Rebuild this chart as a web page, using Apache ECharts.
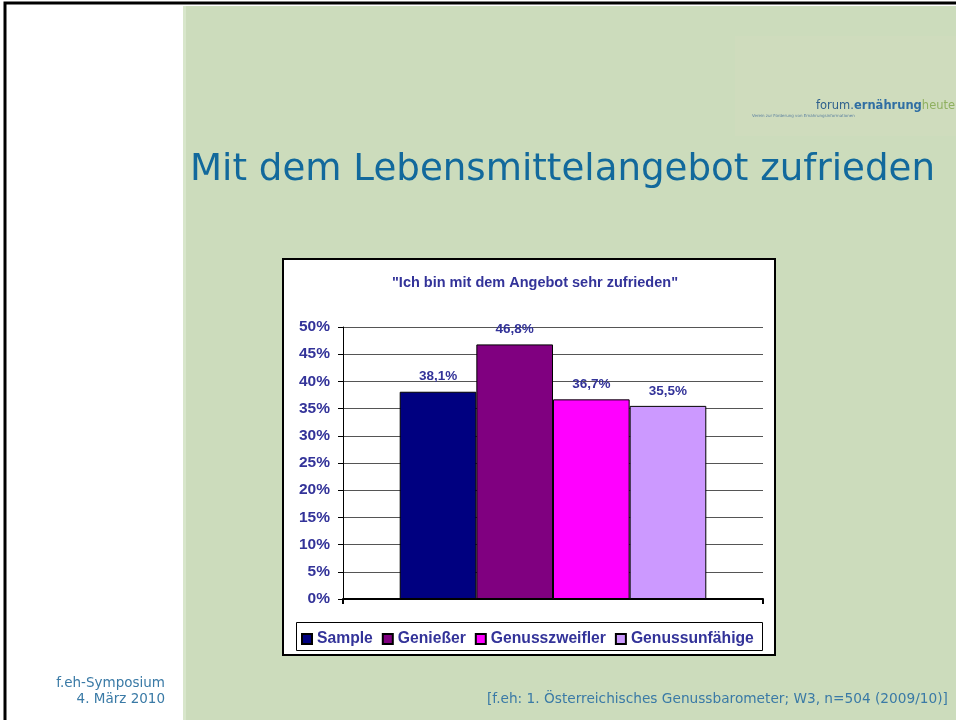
<!DOCTYPE html>
<html lang="de">
<head>
<meta charset="UTF-8">
<title>Mit dem Lebensmittelangebot zufrieden</title>
<script type="text/javascript" src="https://cdn.jsdelivr.net/npm/echarts@6/dist/echarts.min.js"></script>
<style>
  html, body { margin: 0; padding: 0; background: #fff; }
</style>
</head>
<body>
<div id="slide_chart" style="width:956px;height:720px;"></div>

<script type="text/javascript">
// data
var category = ['Zufriedenheit'];
var seriesNames = ['Sample', 'Genießer', 'Genusszweifler', 'Genussunfähige'];
var seriesValues = [38.1, 46.8, 36.7, 35.5];
var seriesColors = ['#000080', '#800080', '#ff00ff', '#cc99ff'];
var yTicks = [0, 5, 10, 15, 20, 25, 30, 35, 40, 45, 50];

var blue = '#333399';
var chartDom = document.getElementById('slide_chart');
var myChart = echarts.init(chartDom);

function pct(v) {
    return String(v).replace('.', ',') + '%';
}

var series = [];
for (var i = 0; i < seriesNames.length; i++) {
    series.push({
        name: seriesNames[i],
        type: 'bar',
        data: [seriesValues[i]],
        barGap: '0%',
        barCategoryGap: '27%',
        itemStyle: { color: seriesColors[i], borderColor: '#000', borderWidth: 1 },
        label: {
            show: true,
            position: 'top',
            distance: 8,
            formatter: function (p) { return pct(p.value); },
            color: blue,
            fontFamily: 'Liberation Sans',
            fontWeight: 'bold',
            fontSize: 13.5
        }
    });
}

var option = {
    backgroundColor: '#fff',
    animation: false,
    graphic: [
        // slide frame
        { type: 'rect', z: -10, shape: { x: 5, y: 3, width: 960, height: 730 },
          style: { fill: '#fff', stroke: '#000', lineWidth: 3 } },
        { type: 'rect', z: -9, shape: { x: 183, y: 6, width: 780, height: 720 },
          style: { fill: '#ccdcbc' } },
        { type: 'rect', z: -9, shape: { x: 183, y: 6, width: 3, height: 720 },
          style: { fill: '#d8e6cb' } },
        // logo area
        { type: 'rect', z: -8, shape: { x: 735, y: 36, width: 230, height: 100 },
          style: { fill: '#cfdcbd' } },
        { type: 'text', z: -7, left: 816, top: 100,
          style: {
              text: '{a|forum.}{b|ernährung}{c|heute}',
              rich: {
                  a: { fontFamily: 'DejaVu Sans', fontSize: 11.5, fill: '#2d5f8c' },
                  b: { fontFamily: 'DejaVu Sans', fontSize: 11.5, fontWeight: 'bold', fill: '#2f6ea3' },
                  c: { fontFamily: 'DejaVu Sans', fontSize: 11.5, fill: '#8fb060' }
              }
          } },
        { type: 'text', z: -7, left: 752, top: 114,
          style: { text: 'Verein zur Förderung von Ernährungsinformationen',
                   fontFamily: 'DejaVu Sans', fontSize: 4, fill: '#5a7fa0' } },
        // slide title
        { type: 'text', z: -7, left: 190, top: 152,
          style: { text: 'Mit dem Lebensmittelangebot zufrieden',
                   fontFamily: 'DejaVu Sans', fontSize: 37.2, fill: '#12699c' } },
        // chart box
        { type: 'rect', z: -6, shape: { x: 283, y: 259, width: 492, height: 396 },
          style: { fill: '#fff', stroke: '#000', lineWidth: 2 } },
        // legend box
        { type: 'rect', z: -5, shape: { x: 296.5, y: 622.5, width: 466, height: 28 },
          style: { fill: '#fff', stroke: '#000', lineWidth: 1 } },
        // footer
        { type: 'text', z: -7, right: 791, top: 676,
          style: { text: 'f.eh-Symposium', fontFamily: 'DejaVu Sans', fontSize: 13.5, fill: '#3a7aa6' } },
        { type: 'text', z: -7, right: 791, top: 692,
          style: { text: '4. März 2010', fontFamily: 'DejaVu Sans', fontSize: 13.5, fill: '#3a7aa6' } },
        { type: 'text', z: -7, left: 487, top: 692,
          style: { text: '[f.eh: 1. Österreichisches Genussbarometer; W3, n=504 (2009/10)]',
                   fontFamily: 'DejaVu Sans', fontSize: 13.7, fill: '#3a7aa6' } }
    ],
    title: {
        text: '"Ich bin mit dem Angebot sehr zufrieden"',
        left: 530,
        top: 270,
        textAlign: 'center',
        textStyle: { color: blue, fontFamily: 'Liberation Sans', fontWeight: 'bold', fontSize: 14.5 }
    },
    legend: {
        left: 301,
        top: 631,
        padding: 0,
        itemWidth: 10,
        itemHeight: 10,
        itemGap: 9,
        icon: 'rect',
        data: seriesNames,
        textStyle: { color: blue, fontFamily: 'Liberation Sans', fontWeight: 'bold', fontSize: 15.7 }
    },
    grid: { left: 343, right: 193, top: 327, bottom: 121 },
    xAxis: {
        type: 'category',
        data: category,
        axisLine: { lineStyle: { color: '#000', width: 2 } },
        axisTick: { show: true, length: 5, lineStyle: { color: '#000', width: 2 } },
        axisLabel: { show: false }
    },
    yAxis: {
        type: 'value',
        min: yTicks[0],
        max: yTicks[yTicks.length - 1],
        interval: 5,
        axisLine: { show: true, lineStyle: { color: '#000', width: 1 } },
        axisTick: { show: true, length: 5, lineStyle: { color: '#000' } },
        axisLabel: {
            formatter: '{value}%',
            margin: 13,
            color: blue,
            fontFamily: 'Liberation Sans',
            fontWeight: 'bold',
            fontSize: 15.5
        },
        splitLine: { lineStyle: { color: '#555', width: 1 } }
    },
    series: series
};

myChart.setOption(option);
</script>
</body>
</html>
